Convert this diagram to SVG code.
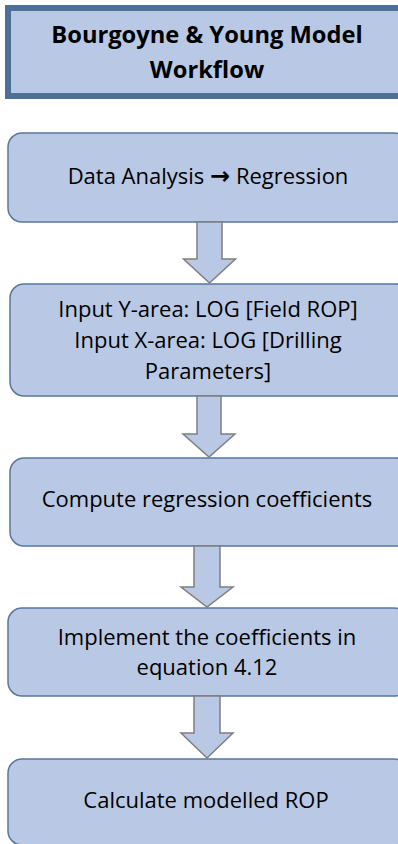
<svg xmlns="http://www.w3.org/2000/svg" width="398" height="844" viewBox="0 0 398 844">
  <style>
    .box { fill: #b9c9e5; stroke: #5777a0; stroke-width: 1.5; }
    .title { fill: #b9c9e5; stroke: #4c7098; stroke-width: 6; }
    .arrow { fill: #b9c9e5; stroke: #7f7f7f; stroke-width: 1.5; stroke-linejoin: miter; }
    text { font-family: "Open Sans", "Liberation Sans", Arial, sans-serif; fill: #000; text-anchor: middle; }
    .t { font-size: 22px; }
    .h { font-size: 23.7px; font-weight: bold; }
    .sym { font-family: "DejaVu Sans", sans-serif; font-weight: bold; font-size: 24px; }
  </style>
  <rect width="398" height="844" fill="#ffffff"/>

  <g id="title">
    <rect class="title" x="8" y="8" width="400" height="88"/>
    <text class="h" x="207" y="43">Bourgoyne &amp; Young Model</text>
    <text class="h" x="207" y="78">Workflow</text>
  </g>

  <g id="step1">
    <rect class="box" x="8" y="133" width="400" height="89" rx="14"/>
    <text class="t" x="208" y="184">Data Analysis <tspan class="sym">→</tspan> Regression</text>
  </g>

  <g id="step2">
    <rect class="box" x="10" y="284" width="400" height="112" rx="14"/>
    <text class="t" x="208" y="317">Input Y-area: LOG [Field ROP]</text>
    <text class="t" x="208" y="348">Input X-area: LOG [Drilling</text>
    <text class="t" x="208" y="379">Parameters]</text>
  </g>

  <g id="step3">
    <rect class="box" x="10" y="458" width="400" height="88" rx="14"/>
    <text class="t" x="207" y="507">Compute regression coefficients</text>
  </g>

  <g id="step4">
    <rect class="box" x="8" y="608" width="400" height="88" rx="14"/>
    <text class="t" x="207" y="645">Implement the coefficients in</text>
    <text class="t" x="207" y="675">equation 4.12</text>
  </g>

  <g id="step5">
    <rect class="box" x="8" y="759" width="400" height="86" rx="14"/>
    <text class="t" x="206" y="808">Calculate modelled ROP</text>
  </g>

  <g id="connectors">
    <path class="arrow" d="M197,222 H222 V259 H235.5 L209.5,283 L183.5,259 H197 Z"/>
    <path class="arrow" d="M197,396 H221 V434 H235 L209,457 L183,434 H197 Z"/>
    <path class="arrow" d="M194,546 H220 V587 H233 L207,607 L181,587 H194 Z"/>
    <path class="arrow" d="M194,696 H220 V733 H233 L207,758 L181,733 H194 Z"/>
  </g>
</svg>
